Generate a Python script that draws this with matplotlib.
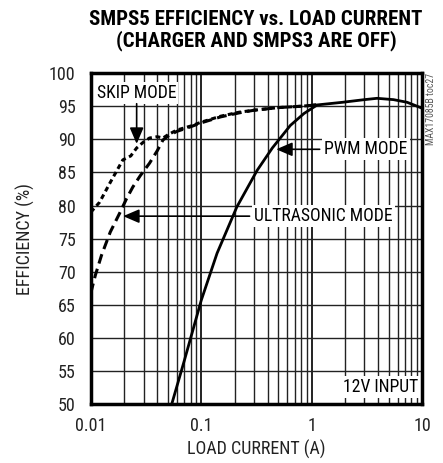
import matplotlib.pyplot as plt
import numpy as np

# efficiency curves (load current in A, efficiency in %)
skip_i = [0.01, 0.012, 0.015, 0.0195, 0.023, 0.026, 0.03, 0.034, 0.04, 0.045, 0.05, 0.06,
          0.08, 0.1, 0.15, 0.22, 0.3, 0.5, 0.8, 1.1]
skip_eff = [79.0, 80.5, 83.5, 86.9, 87.5, 88.7, 89.6, 90.2, 90.4, 90.2, 90.7, 91.4,
            92.0, 92.6, 93.5, 94.1, 94.4, 94.8, 95.0, 95.2]

ultra_i = [0.01, 0.011, 0.0125, 0.015, 0.0183, 0.021, 0.024, 0.028, 0.034, 0.04, 0.045,
           0.05, 0.06, 0.08, 0.1, 0.15, 0.22, 0.3, 0.5, 0.8, 1.1]
ultra_eff = [66.8, 69.5, 72.5, 76.0, 78.9, 81.0, 82.8, 84.5, 86.4, 88.3, 89.9,
             90.5, 91.2, 91.9, 92.5, 93.4, 94.0, 94.4, 94.8, 95.0, 95.2]

pwm_i = [0.054, 0.07, 0.1, 0.139, 0.21, 0.32, 0.44, 0.64, 0.85, 1.12, 1.9, 3.0, 3.9,
         5.5, 7.3, 10.0]
pwm_eff = [50.0, 56.5, 65.7, 72.8, 79.8, 85.3, 88.7, 92.1, 93.9, 95.2, 95.6, 96.0, 96.2,
           96.0, 95.6, 94.7]

yticks = [50, 55, 60, 65, 70, 75, 80, 85, 90, 95, 100]

plt.rcParams['font.family'] = ['Roboto Condensed', 'DejaVu Sans']

fig = plt.figure(figsize=(4.43, 4.63), dpi=100)
ax = fig.add_axes([0.205, 0.127, 0.748, 0.715])

ax.set_xscale('log')
ax.set_xlim(0.01, 10)
ax.set_ylim(50, 100)

# grid: every minor decade line and every 5 %
for dec in [0.01, 0.1, 1]:
    for m in range(1, 10):
        ax.axvline(dec * m, color='#222222', lw=1.0 if m > 1 else 1.4, zorder=1)
for y in yticks:
    ax.axhline(y, color='#222222', lw=1.0, zorder=1)

ax.plot(skip_i, skip_eff, color='black', lw=2.2, ls=(0, (1.6, 1.2)), zorder=3)
ax.plot(ultra_i, ultra_eff, color='black', lw=2.2, ls=(0, (3.2, 1.8)), zorder=3)
ax.plot(pwm_i, pwm_eff, color='black', lw=2.0, zorder=3)

box = dict(facecolor='white', edgecolor='none', pad=1.5)
ax.text(0.0113, 97.0, 'SKIP MODE', fontsize=12.7, va='center', ha='left', bbox=box, zorder=4)
ax.text(0.3, 78.4, 'ULTRASONIC MODE', fontsize=12.7, va='center', ha='left', bbox=box, zorder=4)
ax.text(1.3, 88.5, 'PWM MODE', fontsize=12.7, va='center', ha='left', bbox=box, zorder=4)
ax.text(9.3, 52.6, '12V INPUT', fontsize=12.7, va='center', ha='right', bbox=box, zorder=4)

arrow = dict(arrowstyle='-|>,head_length=0.7,head_width=0.3', color='black', lw=1.2,
             mutation_scale=14)
ax.annotate('', xy=(0.026, 88.9), xytext=(0.026, 95.8), arrowprops=arrow, zorder=5)
ax.annotate('', xy=(0.0185, 78.4), xytext=(0.29, 78.4), arrowprops=arrow, zorder=5)
ax.annotate('', xy=(0.45, 88.5), xytext=(1.25, 88.5), arrowprops=arrow, zorder=5)

ax.set_xticks([0.01, 0.1, 1, 10])
ax.set_xticklabels(['0.01', '0.1', '1', '10'])
ax.set_yticks(yticks)
ax.minorticks_off()
ax.tick_params(axis='y', length=0, labelsize=13, pad=11, colors='#222222')
ax.tick_params(axis='x', length=0, labelsize=13, pad=9, colors='#222222')

ax.set_xlabel('LOAD CURRENT (A)', fontsize=13, color='#222222', labelpad=4)
ax.set_ylabel('EFFICIENCY (%)', fontsize=13, color='#222222', labelpad=10)

for s in ax.spines.values():
    s.set_linewidth(2.5)
    s.set_zorder(6)

fig.text(0.578, 0.978, 'SMPS5 EFFICIENCY vs. LOAD CURRENT\n(CHARGER AND SMPS3 ARE OFF)',
         ha='center', va='top', fontsize=15, fontweight='bold', linespacing=1.05)
fig.text(0.972, 0.842, 'MAX17085B toc27', rotation=90, ha='center', va='top',
         fontsize=7, color='#555555')

fig.savefig('out.png', dpi=100)
